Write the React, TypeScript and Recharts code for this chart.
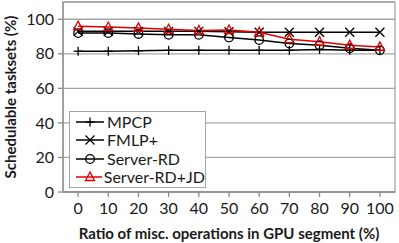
import {
  LineChart,
  Line,
  XAxis,
  YAxis,
  CartesianGrid,
  ReferenceArea,
} from 'recharts';

const ratios = ['0', '10', '20', '30', '40', '50', '60', '70', '80', '90', '100'];
const mpcp = [81.5, 81.5, 81.8, 82, 82, 82, 82, 82, 82.5, 82, 82];
const fmlp = [93, 93, 93, 93, 93, 92.8, 92.5, 92.5, 92.5, 92.5, 92.5];
const serverRd = [92, 92, 91.5, 91, 91, 89.5, 88, 86, 85, 83.2, 82];
const serverRdJd = [96, 95.5, 95, 94.2, 93.5, 93.8, 92.5, 88.5, 87, 85, 84];
const yTicks = [0, 20, 40, 60, 80, 100];

const FONT = 'Lato, "Open Sans", sans-serif';
const TEXT = '#1a1a1a';
const GRID = '#a6a6a6';
const RED = '#e00000';

const data = ratios.map((x, i) => ({
  x,
  mpcp: mpcp[i],
  fmlp: fmlp[i],
  serverRd: serverRd[i],
  serverRdJd: serverRdJd[i],
}));

type Shape = 'plus' | 'cross' | 'circle' | 'triangle';

function Marker({ cx, cy, shape, color }: { cx: number; cy: number; shape: Shape; color: string }) {
  if (cx == null || cy == null) return null;
  const s = 4.5;
  if (shape === 'plus') {
    return (
      <g stroke={color} strokeWidth={1.3}>
        <line x1={cx - s} y1={cy} x2={cx + s} y2={cy} />
        <line x1={cx} y1={cy - s} x2={cx} y2={cy + s} />
      </g>
    );
  }
  if (shape === 'cross') {
    return (
      <g stroke={color} strokeWidth={1.3}>
        <line x1={cx - s} y1={cy - s} x2={cx + s} y2={cy + s} />
        <line x1={cx - s} y1={cy + s} x2={cx + s} y2={cy - s} />
      </g>
    );
  }
  if (shape === 'circle') {
    return <circle cx={cx} cy={cy} r={4.3} fill="none" stroke={color} strokeWidth={1.3} />;
  }
  return (
    <polygon
      points={`${cx},${cy - 5} ${cx - 4.5},${cy + 3.5} ${cx + 4.5},${cy + 3.5}`}
      fill="none"
      stroke={color}
      strokeWidth={1.3}
    />
  );
}

const SERIES: { key: string; name: string; shape: Shape; color: string }[] = [
  { key: 'mpcp', name: 'MPCP', shape: 'plus', color: '#000' },
  { key: 'fmlp', name: 'FMLP+', shape: 'cross', color: '#000' },
  { key: 'serverRd', name: 'Server-RD', shape: 'circle', color: '#000' },
  { key: 'serverRdJd', name: 'Server-RD+JD', shape: 'triangle', color: RED },
];

// legend sits inside the plot, over the empty lower-left area
function LegendBox() {
  return (
    <div
      style={{
        position: 'absolute',
        left: 69,
        top: 111,
        border: `1.5px solid ${GRID}`,
        background: '#fff',
        width: 137,
        padding: '1px 0 1px 5px',
        fontFamily: FONT,
        fontSize: 16,
        lineHeight: '18px',
        color: TEXT,
        boxSizing: 'border-box',
        whiteSpace: 'nowrap',
      }}
    >
      {SERIES.map((s) => (
        <div key={s.key} style={{ display: 'flex', alignItems: 'center', height: 18.3 }}>
          <svg width={30} height={14} style={{ marginRight: 2 }}>
            <line x1={1} y1={7} x2={29} y2={7} stroke={s.color} strokeWidth={1.5} />
            <Marker cx={15} cy={7} shape={s.shape} color={s.color} />
          </svg>
          <span>{s.name}</span>
        </div>
      ))}
    </div>
  );
}

export default function App() {
  return (
    <div style={{ position: 'absolute', left: 0, top: 0, width: 399, height: 243, background: '#fff' }}>
      <LineChart width={399} height={243} data={data} margin={{ top: 2, right: 4, bottom: 0, left: 0 }}>
        <CartesianGrid vertical={false} stroke={GRID} strokeWidth={1.3} />
        <ReferenceArea y1={0} y2={110} fill="none" stroke={GRID} strokeWidth={1.3} ifOverflow="visible" />
        <XAxis
          dataKey="x"
          type="category"
          scale="band"
          interval={0}
          height={51}
          tick={{ fontSize: 16, fill: TEXT, fontFamily: FONT }}
          tickSize={5}
          tickMargin={6}
          axisLine={{ stroke: '#8c8c8c', strokeWidth: 1.3 }}
          tickLine={{ stroke: '#8c8c8c', strokeWidth: 1.3 }}
          label={{
            value: 'Ratio of misc. operations in GPU segment (%)',
            position: 'insideBottom',
            offset: 4,
            style: { fontSize: 15, fontWeight: 700, fill: TEXT, fontFamily: FONT },
          }}
        />
        <YAxis
          domain={[0, 110]}
          ticks={yTicks}
          width={63}
          tick={{ fontSize: 16, fill: TEXT, fontFamily: FONT }}
          tickSize={5}
          tickMargin={4}
          axisLine={{ stroke: '#8c8c8c', strokeWidth: 1.3 }}
          tickLine={{ stroke: '#8c8c8c', strokeWidth: 1.3 }}
          label={{
            value: 'Schedulable tasksets (%)',
            angle: -90,
            position: 'insideLeft',
            offset: 11,
            style: { textAnchor: 'middle', fontSize: 15, fontWeight: 700, fill: TEXT, fontFamily: FONT },
          }}
        />
        {SERIES.map((s) => (
          <Line
            key={s.key}
            dataKey={s.key}
            name={s.name}
            type="linear"
            stroke={s.color}
            strokeWidth={1.5}
            isAnimationActive={false}
            dot={(p: any) => <Marker key={`${s.key}-${p.index}`} cx={p.cx} cy={p.cy} shape={s.shape} color={s.color} />}
            activeDot={false}
          />
        ))}
      </LineChart>
      <LegendBox />
    </div>
  );
}
